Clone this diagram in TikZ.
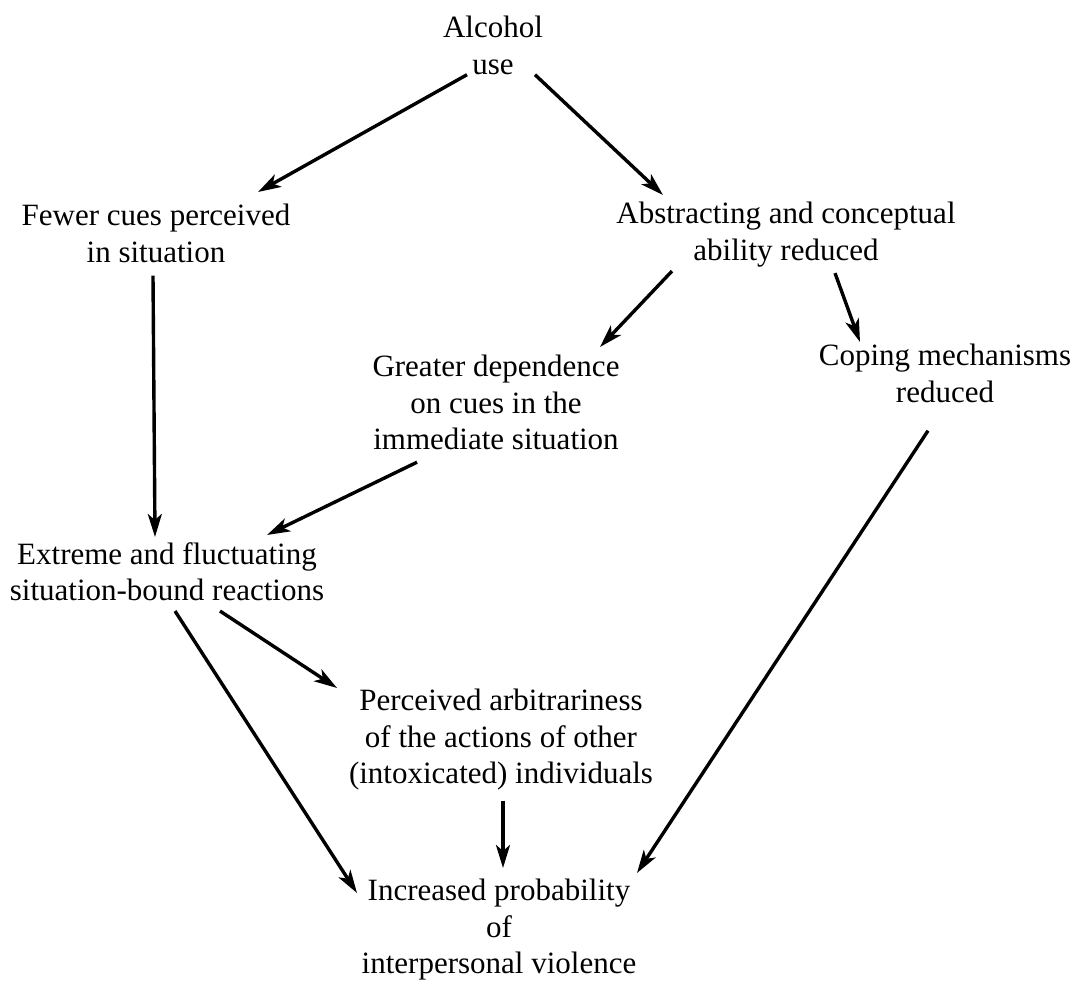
\documentclass[tikz,border=0pt]{standalone}
\usepackage{fontspec}
\setmainfont{Liberation Serif}
\usetikzlibrary{arrows.meta}

\begin{document}
\begin{tikzpicture}[x=1pt, y=1pt, >={Stealth[length=23pt,width=14pt,inset=6pt]},
  box/.style={anchor=north, align=center, inner sep=0pt,
    font=\fontsize{31pt}{36.5pt}\selectfont},
  link/.style={->, line width=3.4pt}]
  \useasboundingbox (0,0) rectangle (1072,-981);

  % Boxes
  \node[box] (alc)     at (493,-16)  {Alcohol\\use};
  \node[box] (fewer)   at (156,-204) {Fewer cues perceived\\in situation};
  \node[box] (abs)     at (786,-202) {Abstracting and conceptual\\ability reduced};
  \node[box] (greater) at (496,-355) {Greater dependence\\on cues in the\\immediate situation};
  \node[box] (coping)  at (945,-344) {Coping mechanisms\\reduced};
  \node[box] (extreme) at (167,-542) {Extreme and fluctuating\\situation-bound reactions};
  \node[box] (perc)    at (501,-689) {Perceived arbitrariness\\of the actions of other\\(intoxicated) individuals};
  \node[box] (incr)    at (499,-879) {Increased probability\\of\\interpersonal violence};

  % Arrows
  \draw[link] ([xshift=-26pt]alc.south) -- ([xshift=102pt,yshift=12pt]fewer.north);
  \draw[link] ([xshift=42pt]alc.south) -- ([xshift=-123pt,yshift=7pt]abs.north);
  \draw[link] ([xshift=-3pt,yshift=-13pt]fewer.south) -- ([xshift=-12pt,yshift=5pt]extreme.north);
  \draw[link] ([xshift=-114pt,yshift=-4pt]abs.south) -- ([xshift=104pt,yshift=8pt]greater.north);
  \draw[link] ([xshift=49pt,yshift=-6pt]abs.south) -- ([xshift=-85pt,yshift=2pt]coping.north);
  \draw[link] ([xshift=-79pt,yshift=-12pt]greater.south) -- ([xshift=100pt,yshift=7pt]extreme.north);
  \draw[link] ([xshift=-17pt,yshift=-28pt]coping.south) -- ([xshift=138pt,yshift=6pt]incr.north);
  \draw[link] ([xshift=53pt,yshift=-10pt]extreme.south) -- ([xshift=-164pt,yshift=1pt]perc.north);
  \draw[link] ([xshift=8pt,yshift=-10pt]extreme.south) -- ([xshift=-142pt,yshift=-14pt]incr.north);
  \draw[link] ([xshift=2pt,yshift=-10pt]perc.south) -- ([xshift=4pt,yshift=11pt]incr.north);
\end{tikzpicture}
\end{document}
